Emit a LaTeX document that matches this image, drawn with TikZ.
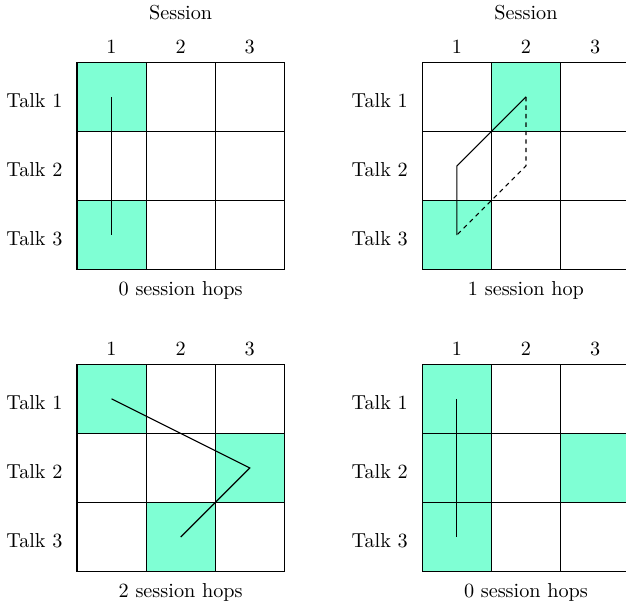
\documentclass[tikz,border=0pt]{standalone}
\definecolor{hl}{HTML}{7FFFD4}
\tikzset{
  cell/.style={draw, line width=0.55pt, minimum size=34.2pt, inner sep=0pt, outer sep=0pt},
  on/.style={fill=hl},
  off/.style={},
  lbl/.style={inner sep=0pt},
  route/.style={line width=0.55pt},
  routedash/.style={line width=0.55pt, dash pattern=on 2.2pt off 2pt}
}
\begin{document}
\begin{tikzpicture}[x=0.495pt,y=-0.495pt]
\useasboundingbox (0,0) rectangle (626,606);
% grid A
\foreach \r/\c/\s in {1/1/on,1/2/off,1/3/off,2/1/off,2/2/off,2/3/off,3/1/on,3/2/off,3/3/off}
  \node[cell,\s] (A\r\c) at ({77+(\c-0.5)*69.1},{62.3+(\r-0.5)*69.1}) {};
% grid B
\foreach \r/\c/\s in {1/1/off,1/2/on,1/3/off,2/1/off,2/2/off,2/3/off,3/1/on,3/2/off,3/3/off}
  \node[cell,\s] (B\r\c) at ({422.3+(\c-0.5)*69.1},{62.3+(\r-0.5)*69.1}) {};
% grid C
\foreach \r/\c/\s in {1/1/on,1/2/off,1/3/off,2/1/off,2/2/off,2/3/on,3/1/off,3/2/on,3/3/off}
  \node[cell,\s] (C\r\c) at ({77+(\c-0.5)*69.1},{364.3+(\r-0.5)*69.1}) {};
% grid D
\foreach \r/\c/\s in {1/1/on,1/2/off,1/3/off,2/1/on,2/2/off,2/3/on,3/1/on,3/2/off,3/3/off}
  \node[cell,\s] (D\r\c) at ({422.3+(\c-0.5)*69.1},{364.3+(\r-0.5)*69.1}) {};
% labels
\foreach \g in {A,B,C,D}{
  \foreach \c in {1,2,3}
    \node[lbl, anchor=base] (\g col\c) at ([yshift=4.3pt]\g1\c.north) {\c};
  \foreach \r in {1,2,3}
    \node[lbl, anchor=base east] (\g row\r) at ([xshift=-7pt,yshift=-5.2pt]\g\r1.west) {Talk \r};
}
\node[lbl, anchor=base] (As) at ([yshift=21pt]A12.north) {Session};
\node[lbl, anchor=base] (Bs) at ([yshift=21pt]B12.north) {Session};
\node[lbl, anchor=base] (Acap) at ([yshift=-13pt]A32.south) {0 session hops};
\node[lbl, anchor=base] (Bcap) at ([yshift=-13pt]B32.south) {1 session hop};
\node[lbl, anchor=base] (Ccap) at ([yshift=-13pt]C32.south) {2 session hops};
\node[lbl, anchor=base] (Dcap) at ([yshift=-13pt]D32.south) {0 session hops};
% routes
\draw[route] (A11.center) -- (A31.center);
\draw[route] (B12.center) -- (B21.center) -- (B31.center);
\draw[routedash] (B12.center) -- (B22.center) -- (B31.center);
\draw[route] (C11.center) -- (C23.center) -- (C32.center);
\draw[route] (D11.center) -- (D31.center);
\end{tikzpicture}
\end{document}
